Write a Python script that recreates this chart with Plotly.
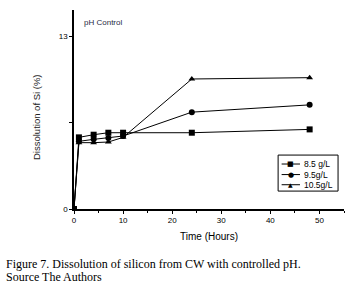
import plotly.graph_objects as go

time_h = [0, 1, 4, 7, 10, 24, 48]
s85 = [0, 5.4, 5.6, 5.75, 5.75, 5.75, 6.0]
s95 = [0, 5.1, 5.25, 5.35, 5.5, 7.3, 7.85]
s105 = [0, 5.0, 5.0, 5.05, 5.4, 9.8, 9.9]
names = ["8.5 g/L", "9.5g/L", "10.5g/L"]
symbols = ["square", "circle", "triangle-up"]
legend_glyphs = ["■", "●", "▲"]

fig = go.Figure()
for ys, nm, sym in zip([s85, s95, s105], names, symbols):
    fig.add_trace(go.Scatter(
        x=time_h, y=ys, name=nm, mode="lines+markers",
        line=dict(color="black", width=1),
        marker=dict(symbol=sym, size=6, color="black"),
        showlegend=False,
    ))

axfont = dict(family="Liberation Sans, Arial", size=8, color="black")
fig.update_layout(
    width=359, height=291,
    margin=dict(l=74, r=15, t=10, b=82),
    paper_bgcolor="white", plot_bgcolor="white",
    showlegend=False,
    xaxis=dict(range=[0, 55], showgrid=False, zeroline=False,
               showline=True, linecolor="black", linewidth=1.5,
               tickvals=[0, 10, 20, 30, 40, 50], ticks="outside", ticklen=3,
               tickcolor="black", tickfont=axfont,
               minor=dict(tickvals=[5, 15, 25, 35, 45, 55], ticks="outside", ticklen=2, tickcolor="black")),
    yaxis=dict(range=[0, 15], showgrid=False, zeroline=False,
               showline=True, linecolor="black", linewidth=1.5,
               tickvals=[0, 6.5, 13], ticktext=["0", "", "13"], ticks="outside", ticklen=3,
               tickcolor="black", tickfont=axfont),
)

# legend box (drawn as shapes + text)
fig.add_shape(type="rect", xref="paper", yref="paper", x0=0.756, x1=0.978, y0=0.090, y1=0.271,
              line=dict(color="black", width=1), fillcolor="white", layer="above")
leg_y = [0.226, 0.173, 0.122]
for ly, nm, gl in zip(leg_y, names, legend_glyphs):
    fig.add_shape(type="line", xref="paper", yref="paper", x0=0.769, x1=0.837, y0=ly, y1=ly,
                  line=dict(color="black", width=1), layer="above")
    fig.add_annotation(text=gl, xref="paper", yref="paper", x=0.803, y=ly, showarrow=False,
                       xanchor="center", yanchor="middle",
                       font=dict(family="DejaVu Sans", size=7 if gl != "▲" else 6, color="black"))
    fig.add_annotation(text=nm, xref="paper", yref="paper", x=0.843, y=ly, showarrow=False,
                       xanchor="left", yanchor="middle",
                       font=dict(family="Liberation Sans, Arial", size=8.5, color="black"))

fig.add_annotation(text="pH Control", xref="paper", yref="paper", x=0.03, y=0.935,
                   xanchor="left", yanchor="middle", showarrow=False,
                   font=dict(family="Liberation Sans, Arial", size=8, color="#1f2a44"))
fig.add_annotation(text="Dissolution of Si (%)", xref="paper", yref="paper", x=-0.141, y=0.462,
                   textangle=-90, xanchor="center", yanchor="middle", showarrow=False,
                   font=dict(family="Liberation Sans, Arial", size=9.5, color="#222222"))
fig.add_annotation(text="Time (Hours)", xref="paper", yref="paper", x=0.5, y=-0.136,
                   xanchor="center", yanchor="middle", showarrow=False,
                   font=dict(family="Liberation Sans, Arial", size=10, color="black"))
fig.add_annotation(text="Figure 7. Dissolution of silicon from CW with controlled pH.",
                   xref="paper", yref="paper", x=-0.259, y=-0.276,
                   xanchor="left", yanchor="middle", showarrow=False,
                   font=dict(family="Liberation Serif, Times New Roman", size=12, color="black"))
fig.add_annotation(text="Source The Authors",
                   xref="paper", yref="paper", x=-0.259, y=-0.342,
                   xanchor="left", yanchor="middle", showarrow=False,
                   font=dict(family="Liberation Serif, Times New Roman", size=12, color="black"))

fig.write_html("out.html", config={"displayModeBar": False},
               post_script="document.body.style.margin='0';document.body.style.overflow='hidden';")
